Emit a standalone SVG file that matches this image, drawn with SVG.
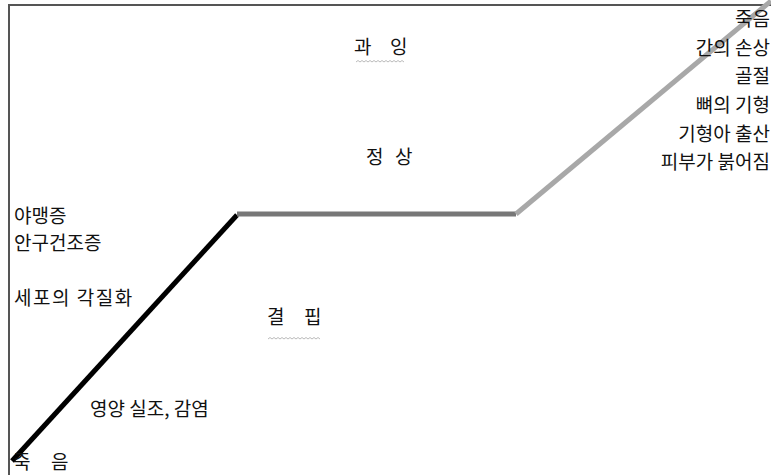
<svg xmlns="http://www.w3.org/2000/svg" width="771" height="475" viewBox="0 0 771 475">
<style>
text{font-family:"Noto Sans CJK KR","Noto Sans",sans-serif;font-size:19px;fill:#111}
.r{text-anchor:end}
.ls{letter-spacing:1.5px}
.sq{fill:none;stroke:#bbb;stroke-width:1}
</style>
<rect width="771" height="475" fill="#fff"/>
<g id="frame">
<line x1="9" y1="5" x2="771" y2="5" stroke="#555" stroke-width="2"/>
<line x1="9" y1="4" x2="9" y2="475" stroke="#555" stroke-width="2"/>
</g>
<g id="connectors">
<line x1="12" y1="461" x2="237" y2="215" stroke="#000" stroke-width="5"/>
<line x1="237" y1="214" x2="516" y2="214" stroke="#777" stroke-width="5"/>
<line x1="516" y1="214" x2="771" y2="1" stroke="#a8a8a8" stroke-width="5"/>
</g>
<g id="excess">
<text x="354" y="54">과<tspan x="390">잉</tspan></text>
<path class="sq" d="M356 62 l2 -1.5 l2 1.5 l2 -1.5 l2 1.5 l2 -1.5 l2 1.5 l2 -1.5 l2 1.5 l2 -1.5 l2 1.5 l2 -1.5 l2 1.5 l2 -1.5 l2 1.5 l2 -1.5 l2 1.5 l2 -1.5 l2 1.5 l2 -1.5 l2 1.5 l2 -1.5 l2 1.5 l2 -1.5 l2 1.5"/>
</g>
<g id="normal"><text x="366" y="164">정<tspan x="395">상</tspan></text></g>
<g id="deficiency">
<text x="267" y="324">결<tspan x="304">핍</tspan></text>
<path class="sq" d="M268 339 l2 -1.5 l2 1.5 l2 -1.5 l2 1.5 l2 -1.5 l2 1.5 l2 -1.5 l2 1.5 l2 -1.5 l2 1.5 l2 -1.5 l2 1.5 l2 -1.5 l2 1.5 l2 -1.5 l2 1.5 l2 -1.5 l2 1.5 l2 -1.5 l2 1.5 l2 -1.5 l2 1.5 l2 -1.5 l2 1.5 l2 -1.5 l2 1.5"/>
</g>
<g id="left-labels">
<text x="14" y="223">야맹증</text>
<text x="14" y="250">안구건조증</text>
<text class="ls" x="14" y="305">세포의 각질화</text>
<text x="90" y="416">영양 실조, 감염</text>
<text x="13" y="469">죽<tspan x="51">음</tspan></text>
</g>
<g id="right-labels">
<text class="r" x="770" y="26">죽음</text>
<text class="r" x="770" y="55">간의 손상</text>
<text class="r" x="770" y="83">골절</text>
<text class="r" x="770" y="112">뼈의 기형</text>
<text class="r" x="770" y="141">기형아 출산</text>
<text class="r" x="770" y="169">피부가 붉어짐</text>
</g>
</svg>
